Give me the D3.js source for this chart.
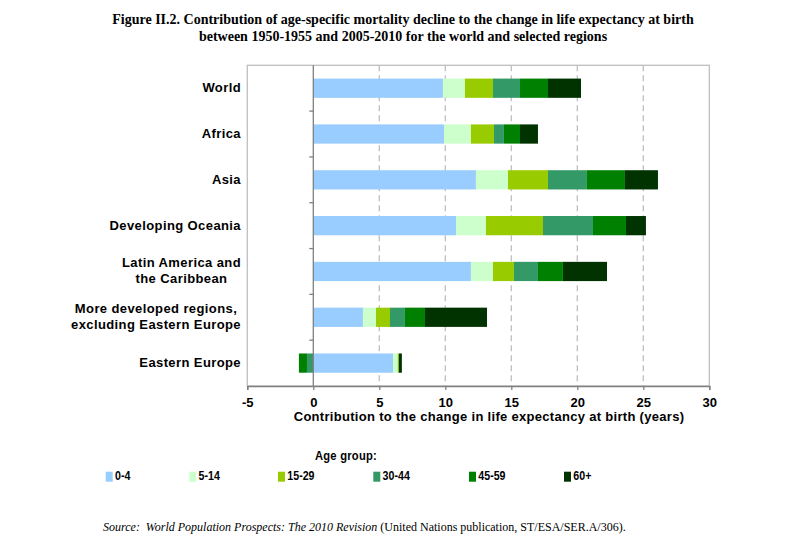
<!DOCTYPE html>
<html>
<head>
<meta charset="utf-8">
<script src="https://cdn.jsdelivr.net/npm/d3@7"></script>
<style>
  html, body { margin: 0; padding: 0; background: #fff; }
  svg { display: block; }
</style>
</head>
<body>
<svg id="chart" width="789" height="556"></svg>
<script>
// ---- data ----
const regions = [
  "World",
  "Africa",
  "Asia",
  "Developing Oceania",
  "Latin America and\nthe Caribbean",
  "More developed regions,\nexcluding Eastern Europe",
  "Eastern Europe"
];
const ageGroups = ["0-4", "5-14", "15-29", "30-44", "45-59", "60+"];
const age0_4   = [9.82, 9.90, 12.32, 10.81, 11.94, 3.76, 6.04];
const age5_14  = [1.67, 2.04, 2.43, 2.27, 1.67, 0.99, 0.36];
const age15_29 = [2.12, 1.75, 3.03, 4.32, 1.59, 1.06, 0.08];
const age30_44 = [2.05, 0.75, 2.95, 3.79, 1.82, 1.13, -0.48];
const age45_59 = [2.12, 1.22, 2.88, 2.50, 1.89, 1.52, -0.61];
const age60p   = [2.50, 1.36, 2.50, 1.51, 3.34, 4.70, 0.23];
const xTicks = [-5, 0, 5, 10, 15, 20, 25, 30];
const colors = ["#99ccff", "#ccffcc", "#99cc00", "#339966", "#008000", "#003300"];

const seriesValues = [age0_4, age5_14, age15_29, age30_44, age45_59, age60p];
const table = regions.map((r, i) => {
  const row = { region: r };
  ageGroups.forEach((g, j) => row[g] = seriesValues[j][i]);
  return row;
});

// ---- layout ----
const svg = d3.select("#chart");
const plot = { left: 247.3, right: 709.3, top: 65.3, bottom: 386 };
const SANS = "'Liberation Sans', Arial, sans-serif";
const SERIF = "'Liberation Serif', 'Times New Roman', serif";

const x = d3.scaleLinear().domain([-5, 30]).range([plot.left, plot.right]);
const y = d3.scaleBand().domain(regions).range([plot.top, plot.bottom])
  .paddingInner(0.58).paddingOuter(0.29);
const yOuter = d3.scaleBand().domain(regions).range([plot.top, plot.bottom]);

const stack = d3.stack().keys(ageGroups).offset(d3.stackOffsetDiverging);
const stacked = stack(table);

// frame
svg.append("rect")
  .attr("x", plot.left).attr("y", plot.top)
  .attr("width", plot.right - plot.left).attr("height", plot.bottom - plot.top)
  .attr("fill", "none").attr("stroke", "#bfbfbf").attr("stroke-width", 1.3);

// gridlines
svg.append("g").selectAll("line")
  .data(xTicks.filter(t => t > 0 && t < 30))
  .join("line")
  .attr("x1", d => x(d)).attr("x2", d => x(d))
  .attr("y1", plot.top).attr("y2", plot.bottom)
  .attr("stroke", "#bfbfbf").attr("stroke-width", 1.3)
  .attr("stroke-dasharray", "6,4");

// bars
svg.append("g").selectAll("g")
  .data(stacked)
  .join("g")
  .attr("fill", (d, i) => colors[i])
  .selectAll("rect")
  .data(d => d)
  .join("rect")
  .attr("x", d => x(Math.min(d[0], d[1])))
  .attr("width", d => Math.abs(x(d[1]) - x(d[0])))
  .attr("y", d => y(d.data.region))
  .attr("height", y.bandwidth());

// zero (category) axis line
svg.append("line")
  .attr("x1", x(0)).attr("x2", x(0))
  .attr("y1", plot.top).attr("y2", plot.bottom)
  .attr("stroke", "#808080").attr("stroke-width", 1.3);
svg.append("g").selectAll("line")
  .data(regions.slice(1))
  .join("line")
  .attr("x1", x(0) - 4).attr("x2", x(0))
  .attr("y1", d => yOuter(d)).attr("y2", d => yOuter(d))
  .attr("stroke", "#808080").attr("stroke-width", 1.3);

// bottom axis
const xAxis = d3.axisBottom(x).tickValues(xTicks).tickSize(4).tickPadding(8)
  .tickFormat(d => String(d));
const gx = svg.append("g").attr("transform", `translate(0,${plot.bottom})`).call(xAxis);
gx.attr("font-family", SANS);
gx.select(".domain").attr("stroke", "#808080").attr("stroke-width", 1.3);
gx.selectAll(".tick line").attr("stroke", "#808080").attr("stroke-width", 1.3);
gx.selectAll(".tick text")
  .attr("font-family", SANS)
  .attr("font-size", 13).attr("font-weight", "bold").attr("fill", "#000");

// axis title
svg.append("text")
  .attr("x", 489).attr("y", 421)
  .attr("text-anchor", "middle")
  .attr("font-family", SANS)
  .attr("font-size", 13).attr("font-weight", "bold")
  .attr("letter-spacing", 0.3)
  .text("Contribution to the change in life expectancy at birth (years)");

// category labels
const labelRight = 241;
regions.forEach(r => {
  const lines = r.split("\n");
  const cy = yOuter(r) + yOuter.bandwidth() / 2;
  const t = svg.append("text")
    .attr("font-family", SANS)
    .attr("font-size", 13).attr("font-weight", "bold")
    .attr("letter-spacing", 0.4)
    .attr("text-anchor", "middle");
  const n = lines.length;
  lines.forEach((ln, i) => {
    t.append("tspan").attr("y", cy + 4 + (i - (n - 1) / 2) * 16).text(ln);
  });
  const w = d3.max(t.selectAll("tspan").nodes(), nd => nd.getComputedTextLength());
  t.selectAll("tspan").attr("x", labelRight - w / 2);
});

// title
const title = svg.append("text")
  .attr("text-anchor", "middle")
  .attr("font-family", SERIF)
  .attr("font-size", 14).attr("font-weight", "bold");
title.append("tspan").attr("x", 403).attr("y", 24)
  .text("Figure II.2. Contribution of age-specific mortality decline to the change in life expectancy at birth");
title.append("tspan").attr("x", 403).attr("y", 41)
  .text("between 1950-1955 and 2005-2010 for the world and selected regions");

// legend
svg.append("text")
  .attr("transform", "translate(346,459.5) scale(0.86,1)")
  .attr("text-anchor", "middle")
  .attr("font-family", SANS)
  .attr("font-size", 13).attr("font-weight", "bold")
  .attr("letter-spacing", 0.3)
  .text("Age group:");

const legendX = [105.7, 189.3, 278, 373.3, 469, 564];
const lg = svg.append("g").selectAll("g")
  .data(ageGroups)
  .join("g")
  .attr("transform", (d, i) => `translate(${legendX[i]},471.7)`);
lg.append("rect").attr("width", 7).attr("height", 10).attr("fill", (d, i) => colors[i]);
lg.append("text")
  .attr("transform", "translate(9.3,8.5) scale(0.82,1)")
  .attr("font-family", SANS)
  .attr("font-size", 13).attr("font-weight", "bold")
  .text(d => d);

// source
const src = svg.append("text")
  .attr("x", 103).attr("y", 531)
  .attr("font-family", SERIF)
  .attr("font-size", 12);
src.append("tspan").attr("font-style", "italic").text("Source:\u00a0\u00a0World Population Prospects: The 2010 Revision");
src.append("tspan").text(" (United Nations publication, ST/ESA/SER.A/306).");
</script>
</body>
</html>
